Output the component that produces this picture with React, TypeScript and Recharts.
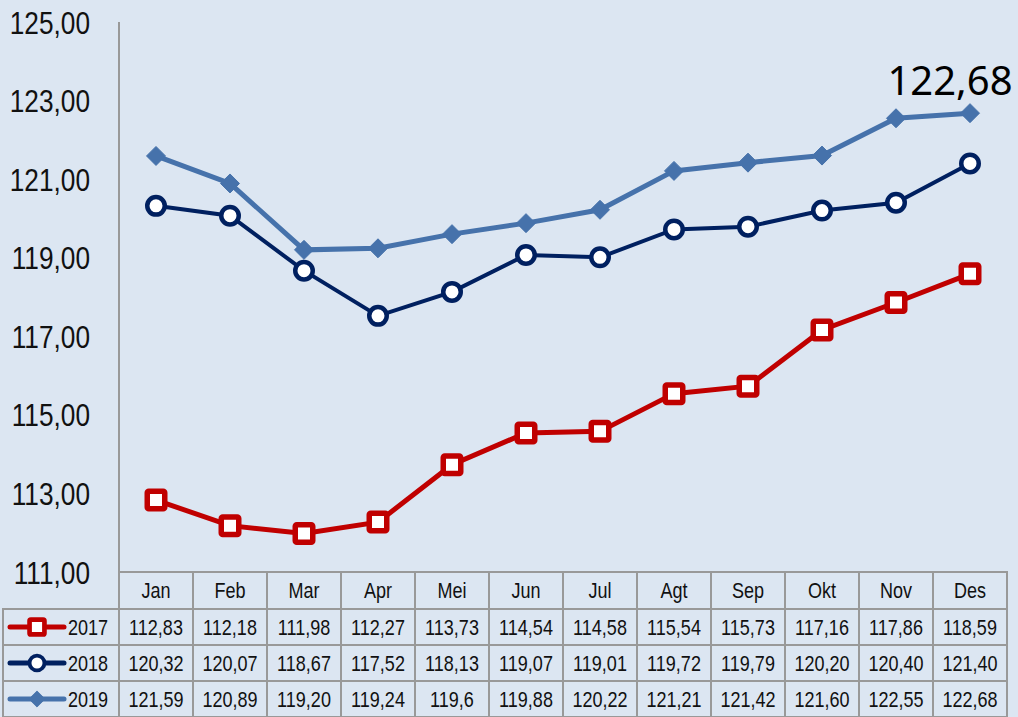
import { Customized, LabelList, Line, LineChart, XAxis, YAxis } from 'recharts'

// Indeks bulanan 2017-2019
const months = ['Jan', 'Feb', 'Mar', 'Apr', 'Mei', 'Jun', 'Jul', 'Agt', 'Sep', 'Okt', 'Nov', 'Des']
const values2017 = [112.83, 112.18, 111.98, 112.27, 113.73, 114.54, 114.58, 115.54, 115.73, 117.16, 117.86, 118.59]
const values2018 = [120.32, 120.07, 118.67, 117.52, 118.13, 119.07, 119.01, 119.72, 119.79, 120.2, 120.4, 121.4]
const values2019 = [121.59, 120.89, 119.2, 119.24, 119.6, 119.88, 120.22, 121.21, 121.42, 121.6, 122.55, 122.68]

const cells2017 = ['112,83', '112,18', '111,98', '112,27', '113,73', '114,54', '114,58', '115,54', '115,73', '117,16', '117,86', '118,59']
const cells2018 = ['120,32', '120,07', '118,67', '117,52', '118,13', '119,07', '119,01', '119,72', '119,79', '120,20', '120,40', '121,40']
const cells2019 = ['121,59', '120,89', '119,20', '119,24', '119,6', '119,88', '120,22', '121,21', '121,42', '121,60', '122,55', '122,68']

const yTicks = [111, 113, 115, 117, 119, 121, 123, 125]

const data = months.map((month, i) => ({
  month,
  y2017: values2017[i],
  y2018: values2018[i],
  y2019: values2019[i],
}))

const W = 1018
const H = 717
const BG = '#dce6f2'
const GRID = '#999999'
// no Arial Narrow here, so squeeze Liberation Sans horizontally
const FONT = "'Liberation Sans', Arial, sans-serif"
const SQUEEZE = 0.82

const PLOT_LEFT = 119
const PLOT_RIGHT = 1007
const PLOT_TOP = 22
const PLOT_BOTTOM = 572
const COL_W = (PLOT_RIGHT - PLOT_LEFT) / 12
// header row + 3 series rows
const ROW_Y = [572, 609, 645, 681, 717]
const LEGEND_LEFT = 3

const RED = '#c00000'
const NAVY = '#002060'
const STEEL = '#4672ab'

type MarkerKind = 'square' | 'circle' | 'diamond'

const series = [
  { key: 'y2017', name: '2017', color: RED, marker: 'square' as MarkerKind, cells: cells2017, width: 5 },
  { key: 'y2018', name: '2018', color: NAVY, marker: 'circle' as MarkerKind, cells: cells2018, width: 4 },
  { key: 'y2019', name: '2019', color: STEEL, marker: 'diamond' as MarkerKind, cells: cells2019, width: 5 },
]

function NarrowText({ x, y, size, anchor = 'middle', children }: { x: number; y: number; size: number; anchor?: string; children: any }) {
  return (
    <text
      transform={`translate(${x},${y}) scale(${SQUEEZE},1)`}
      dy="0.36em"
      textAnchor={anchor}
      fontFamily={FONT}
      fontSize={size}
      fill="#111"
    >
      {children}
    </text>
  )
}

function Marker({ kind, cx, cy, color }: { kind: MarkerKind; cx: number; cy: number; color: string }) {
  if (kind === 'square') {
    return <rect x={cx - 8.75} y={cy - 8.75} width={17.5} height={17.5} rx={1.5} fill="#fff" stroke={color} strokeWidth={5.5} />
  }
  if (kind === 'circle') {
    return <circle cx={cx} cy={cy} r={8.75} fill="#fff" stroke={color} strokeWidth={4.5} />
  }
  return <path d={`M${cx},${cy - 9.5}L${cx + 9.5},${cy}L${cx},${cy + 9.5}L${cx - 9.5},${cy}Z`} fill={color} stroke={color} strokeWidth={1} strokeLinejoin="round" />
}

function YTick(props: any) {
  const { x, y, payload } = props
  return (
    <NarrowText x={x} y={y} size={32} anchor="end">
      {payload.value.toFixed(2).replace('.', ',')}
    </NarrowText>
  )
}

function TableColumn(props: any) {
  const { x, payload } = props
  const i = payload.index
  const left = x - COL_W / 2
  return (
    <g>
      {ROW_Y.slice(0, 4).map((top, r) => (
        <rect
          key={r}
          x={left}
          y={top}
          width={COL_W}
          height={ROW_Y[r + 1] - top}
          fill={BG}
          stroke={GRID}
          strokeWidth={2}
        />
      ))}
      <NarrowText x={x} y={(ROW_Y[0] + ROW_Y[1]) / 2} size={22}>
        {months[i]}
      </NarrowText>
      {series.map((s, r) => (
        <NarrowText key={s.key} x={x} y={(ROW_Y[r + 1] + ROW_Y[r + 2]) / 2} size={22}>
          {s.cells[i]}
        </NarrowText>
      ))}
    </g>
  )
}

function LegendColumn() {
  return (
    <g>
      {series.map((s, r) => {
        const top = ROW_Y[r + 1]
        const bottom = ROW_Y[r + 2]
        const mid = (top + bottom) / 2
        return (
          <g key={s.key}>
            <rect x={LEGEND_LEFT} y={top} width={PLOT_LEFT - LEGEND_LEFT} height={bottom - top} fill={BG} stroke={GRID} strokeWidth={2} />
            <line x1={10} x2={64} y1={mid} y2={mid} stroke={s.color} strokeWidth={5} strokeLinecap="round" />
            <g transform={`translate(${37},${mid}) scale(0.85) translate(${-37},${-mid})`}>
              <Marker kind={s.marker} cx={37} cy={mid} color={s.color} />
            </g>
            <NarrowText x={68} y={mid} size={22} anchor="start">
              {s.name}
            </NarrowText>
          </g>
        )
      })}
    </g>
  )
}

function LastLabel(props: any) {
  const { x, y, index } = props
  if (index !== months.length - 1) return null
  return (
    <text x={x - 20} y={y - 18} textAnchor="middle" fontFamily="'Noto Sans', sans-serif" fontSize={40} fill="#000">
      {cells2019[index]}
    </text>
  )
}

export default function App() {
  return (
    <div style={{ position: 'absolute', left: 0, top: 0, width: W, height: H, background: BG }}>
      <LineChart width={W} height={H} data={data} margin={{ top: PLOT_TOP, right: W - PLOT_RIGHT, bottom: 0, left: 0 }}>
        <XAxis
          dataKey="month"
          padding={{ left: COL_W / 2, right: COL_W / 2 }}
          interval={0}
          height={H - PLOT_BOTTOM}
          axisLine={false}
          tickLine={false}
          tick={<TableColumn />}
        />
        <YAxis
          width={PLOT_LEFT}
          domain={[111, 125]}
          ticks={yTicks}
          interval={0}
          allowDataOverflow
          axisLine={{ stroke: GRID, strokeWidth: 2 }}
          tickLine={false}
          tickSize={0}
          tickMargin={29}
          tick={<YTick />}
        />
        {series.map((s) => (
          <Line
            key={s.key}
            dataKey={s.key}
            name={s.name}
            stroke={s.color}
            strokeWidth={s.width}
            isAnimationActive={false}
            dot={(p: any) => <Marker key={`${s.key}-${p.index}`} kind={s.marker} cx={p.cx} cy={p.cy} color={s.color} />}
            activeDot={false}
          >
            {s.key === 'y2019' && <LabelList dataKey={s.key} content={<LastLabel />} />}
          </Line>
        ))}
        <Customized component={<LegendColumn />} />
      </LineChart>
    </div>
  )
}
